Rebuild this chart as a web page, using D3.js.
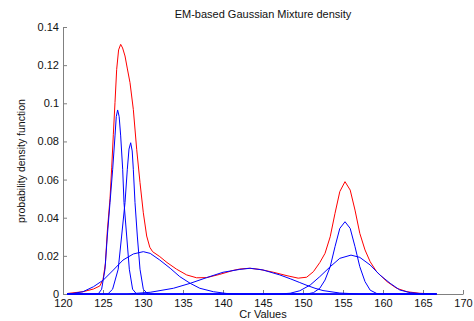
<!DOCTYPE html>
<html>
<head>
<meta charset="utf-8">
<script src="https://cdn.jsdelivr.net/npm/d3@7"></script>
<style>
    body { margin: 0; background: #fff; }
    text { font-family: "Liberation Sans", Arial, sans-serif; fill: #111; }
    .axis path, .axis line { stroke: #808080; }
    .axis text { font-size: 11px; fill: #111; }
    .curve { fill: none; stroke-width: 1; }
</style>
</head>
<body>
<div id="chart"></div>
<script>
// ... values

const xTicks = [120, 125, 130, 135, 140, 145, 150, 155, 160, 165, 170];
const yTicks = [0, 0.02, 0.04, 0.06, 0.08, 0.1, 0.12, 0.14];

const comp1X = [120.5, 124.4, 124.83, 125.25, 125.54, 125.875, 126.21, 126.5, 126.66, 126.83, 127.02, 127.21, 127.46, 127.625, 127.96, 128.29, 128.7, 129.2, 166.7];
const comp1Y = [0, 0, 0.0025, 0.013, 0.0304, 0.0479, 0.0654, 0.0829, 0.093, 0.0965, 0.093, 0.0829, 0.0654, 0.0479, 0.0304, 0.013, 0.0025, 0, 0];

const comp2X = [120.5, 125.6, 126.2, 126.9, 127.33, 127.75, 128.04, 128.25, 128.46, 128.65, 128.79, 129.0, 129.29, 129.625, 130.04, 130.6, 166.7];
const comp2Y = [0, 0, 0.0025, 0.013, 0.0304, 0.0479, 0.0654, 0.076, 0.0793, 0.075, 0.0654, 0.0479, 0.0304, 0.013, 0.0025, 0, 0];

const comp3X = [120.5, 121.25, 122.5, 123.8, 125.04, 126.3, 127.5, 128.8, 130.04, 130.9, 132.1, 133.4, 134.6, 135.9, 137.1, 138.8, 140.4, 142, 166.7];
const comp3Y = [0, 0.0003, 0.0012, 0.0038, 0.0073, 0.0126, 0.0178, 0.021, 0.0222, 0.0213, 0.0178, 0.0135, 0.0091, 0.0056, 0.003, 0.0012, 0.0003, 0, 0];

const comp4X = [120.5, 128, 130.9, 133.8, 135.9, 137.96, 140, 142.1, 143.4, 145, 147.1, 148.4, 149.6, 150.5, 151.5, 152.5, 154.6, 157, 166.7];
const comp4Y = [0, 0, 0.0009, 0.003, 0.0056, 0.0086, 0.0114, 0.0129, 0.0135, 0.0126, 0.01, 0.008, 0.006, 0.0045, 0.003, 0.0018, 0.0005, 0, 0];

const comp5X = [120.5, 150.5, 151.3, 152.1, 152.75, 153.4, 154, 154.6, 155.25, 155.9, 156.5, 157.1, 157.75, 158.4, 159.2, 160, 166.7];
const comp5Y = [0, 0, 0.0007, 0.003, 0.0073, 0.0143, 0.0248, 0.0344, 0.0379, 0.0344, 0.0248, 0.0143, 0.0065, 0.002, 0.0003, 0, 0];

const comp6X = [120.5, 147, 148.4, 149.6, 150.9, 152.1, 153.4, 154.6, 156, 157.1, 158.4, 159.6, 160.9, 162.1, 163.4, 165, 166.7];
const comp6Y = [0, 0, 0.0004, 0.0017, 0.0047, 0.0091, 0.0143, 0.0187, 0.0204, 0.0192, 0.0152, 0.01, 0.0056, 0.0021, 0.0007, 0.0001, 0];

const mixX = [120.6, 122.5, 123.8, 124.6, 125.0, 125.3, 125.54, 125.875, 126.09, 126.29, 126.5, 126.71, 126.95, 127.21, 127.45, 127.75, 128.05, 128.375, 128.79, 129.21, 129.625, 130.04, 130.46, 130.85, 131.2, 132.1, 133.0, 134.2, 135.46, 136.7, 137.96, 139.6, 141.3, 142.1, 143.3, 144.6, 146.3, 148.0, 149.4, 150.46, 151.3, 152.1, 152.75, 153.4, 154.0, 154.6, 155.25, 155.9, 156.5, 157.1, 157.75, 158.4, 159.2, 160.5, 161.7, 163.0, 164.5, 166.7];
const mixY = [0.0003, 0.0012, 0.0026, 0.0042, 0.0075, 0.016, 0.033, 0.05, 0.0665, 0.0835, 0.1005, 0.1178, 0.128, 0.1309, 0.129, 0.1248, 0.118, 0.1108, 0.0968, 0.0759, 0.0584, 0.0426, 0.0304, 0.0245, 0.0222, 0.0196, 0.0165, 0.013, 0.01, 0.0085, 0.0086, 0.0103, 0.0124, 0.0131, 0.0135, 0.0129, 0.0114, 0.0096, 0.0083, 0.0088, 0.0117, 0.0165, 0.0213, 0.03, 0.0423, 0.0537, 0.0589, 0.0545, 0.044, 0.0318, 0.0231, 0.0169, 0.0117, 0.0065, 0.003, 0.0012, 0.0004, 0];

const components = [
    [comp1X, comp1Y], [comp2X, comp2Y], [comp3X, comp3Y],
    [comp4X, comp4Y], [comp5X, comp5Y], [comp6X, comp6Y]
];

// ... chart area

const W = 474, H = 321;
const margin = {top: 27, right: 11, bottom: 27, left: 63};
const width = W - margin.left - margin.right;
const height = H - margin.top - margin.bottom;

const x = d3.scaleLinear().domain([120, 170]).range([0, width]);
const y = d3.scaleLinear().domain([0, 0.14]).range([height, 0]);

const svg = d3.select('#chart').append('svg')
    .attr('width', W)
    .attr('height', H)
    .append('g')
    .attr('transform', 'translate(' + margin.left + ',' + margin.top + ')');

const xAxis = d3.axisBottom(x)
    .tickValues(xTicks)
    .tickSizeInner(-4)
    .tickSizeOuter(0)
    .tickPadding(5)
    .tickFormat(d3.format('d'));

const yAxis = d3.axisLeft(y)
    .tickValues(yTicks)
    .tickSizeInner(-4)
    .tickSizeOuter(0)
    .tickPadding(4)
    .tickFormat(d => d === 0 ? '0' : String(+d.toFixed(2)));

svg.append('g')
    .attr('class', 'x axis')
    .attr('transform', 'translate(0,' + height + ')')
    .call(xAxis);

svg.append('g')
    .attr('class', 'y axis')
    .call(yAxis);

// ... curves

const line = d3.line()
    .x(d => x(d[0]))
    .y(d => y(d[1]));

const zip = (xs, ys) => xs.map((v, i) => [v, ys[i]]);

svg.append('path')
    .datum(zip(mixX, mixY))
    .attr('class', 'curve')
    .attr('stroke', '#ff0000')
    .attr('d', line);

components.forEach(c => {
    svg.append('path')
        .datum(zip(c[0], c[1]))
        .attr('class', 'curve')
        .attr('stroke', '#0000ff')
        .attr('d', line);
});

// ... labels

svg.append('text')
    .attr('x', width / 2)
    .attr('y', -9)
    .attr('text-anchor', 'middle')
    .style('font-size', '11px')
    .text('EM-based Gaussian Mixture density');

svg.append('text')
    .attr('x', width / 2)
    .attr('y', height + 24)
    .attr('text-anchor', 'middle')
    .style('font-size', '11px')
    .text('Cr Values');

svg.append('text')
    .attr('transform', 'rotate(-90)')
    .attr('x', -(161 - margin.top))
    .attr('y', 25 - margin.left)
    .attr('text-anchor', 'middle')
    .style('font-size', '10.5px')
    .text('probability density function');
</script>
</body>
</html>
